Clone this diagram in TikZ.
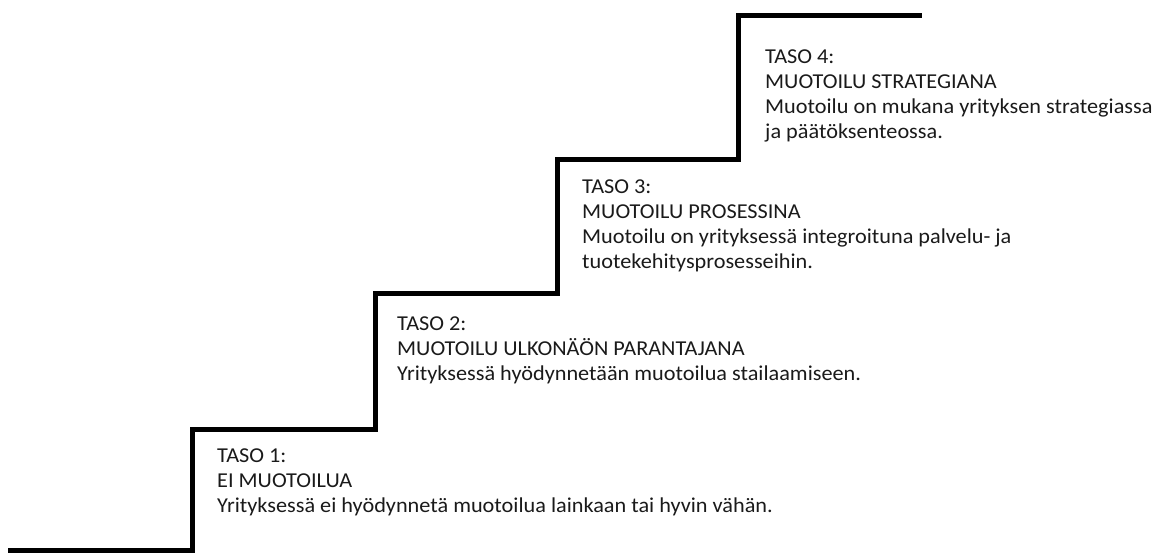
\documentclass[tikz,border=0pt]{standalone}
\usepackage{fontspec}
\setmainfont[FakeStretch=1.05]{Carlito}
\usepackage{xcolor}
\usepackage{tikz}
\usetikzlibrary{positioning}
\definecolor{stairline}{HTML}{000000}
\definecolor{textmain}{HTML}{1A1A1A}
\tikzset{
  level/.style={anchor=base west, inner sep=0pt, align=left,
    font=\fontsize{21.2}{25}\selectfont\color{textmain}},
  stairs/.style={stairline, line width=5pt, line join=miter}
}
\begin{document}
\begin{tikzpicture}[x=1pt, y=-1pt]
\useasboundingbox (0,0) rectangle (1166,554);

% Stair corners
\coordinate (s0) at (8, 550);
\coordinate (s1) at (192, 550);
\coordinate (s2) at (192, 429);
\coordinate (s3) at (375, 429);
\coordinate (s4) at (375, 293);
\coordinate (s5) at (557, 293);
\coordinate (s6) at (557, 159);
\coordinate (s7) at (738, 159);
\coordinate (s8) at (738, 15);
\coordinate (s9) at (922, 15);

% Staircase
\draw[stairs] (s0) -- (s1) -- (s2) -- (s3) -- (s4) -- (s5) -- (s6) -- (s7) -- (s8) -- (s9);

% Level 1 (placed at the baseline of its last line)
\node[level] (taso1) at (217, 512) {TASO 1:\\EI MUOTOILUA\\Yrityksessä ei hyödynnetä muotoilua lainkaan tai hyvin vähän.};

% Level 2
\node[level] (taso2) at (397, 380) {TASO 2:\\MUOTOILU ULKONÄÖN PARANTAJANA\\Yrityksessä hyödynnetään muotoilua stailaamiseen.};

% Level 3
\node[level] (taso3) at (582, 268) {TASO 3:\\MUOTOILU PROSESSINA\\Muotoilu on yrityksessä integroituna palvelu- ja\\tuotekehitysprosesseihin.};

% Level 4
\node[level] (taso4) at (765, 138) {TASO 4:\\MUOTOILU STRATEGIANA\\Muotoilu on mukana yrityksen strategiassa\\ja päätöksenteossa.};

\end{tikzpicture}
\end{document}
